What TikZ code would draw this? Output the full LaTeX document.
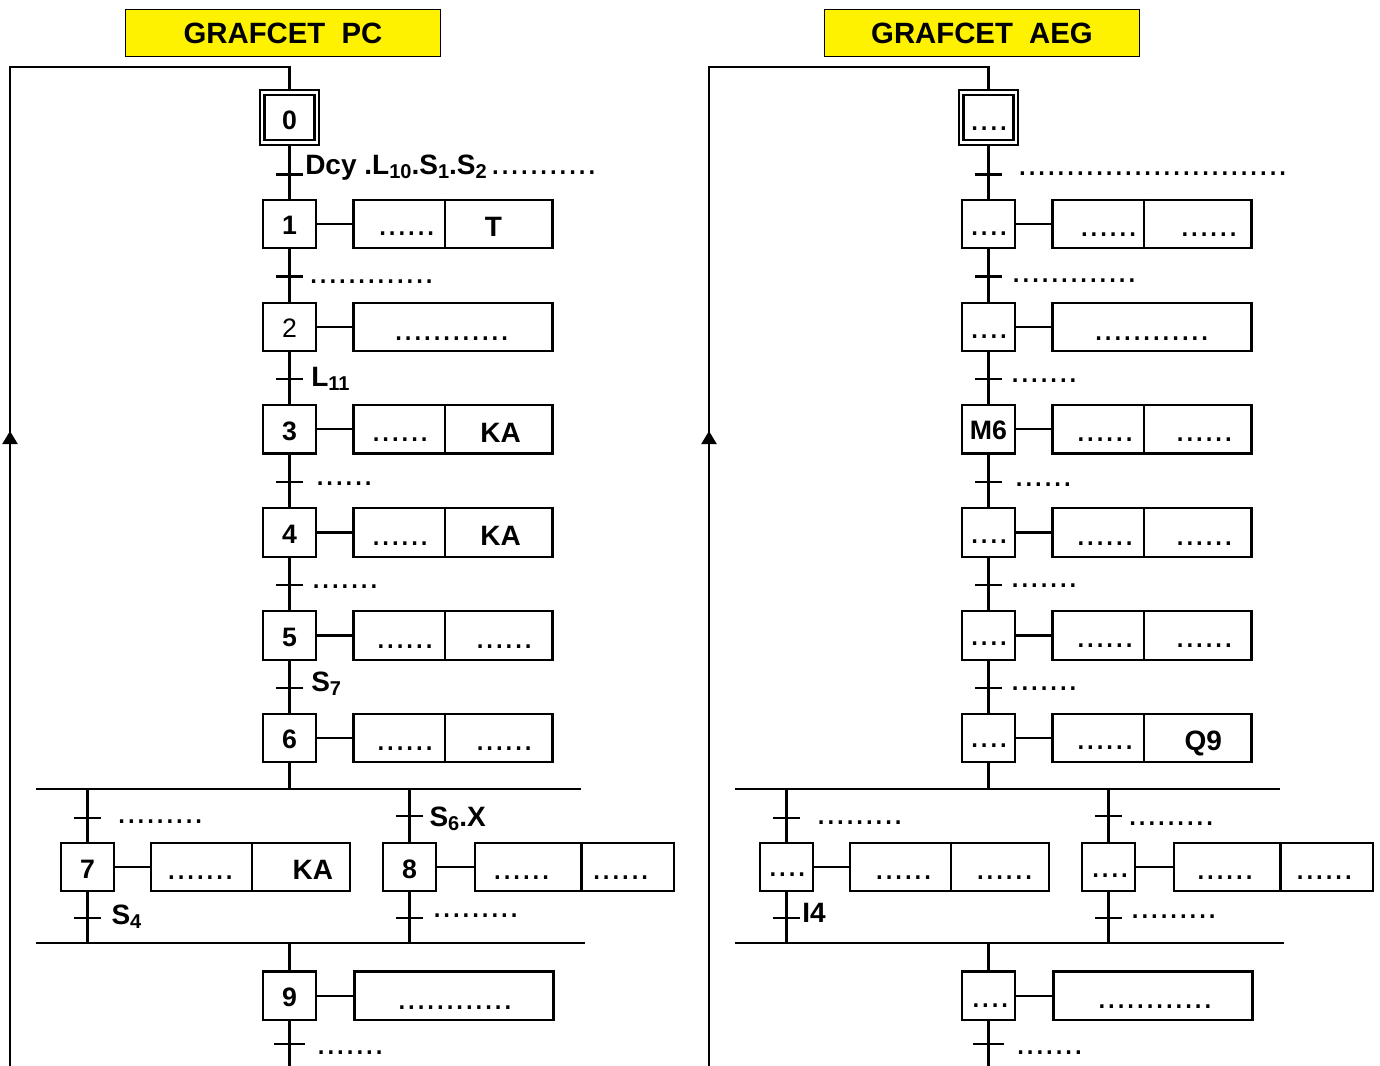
\documentclass[tikz,border=0pt]{standalone}
\usepackage{fontspec}
\setmainfont{Liberation Sans}
\usetikzlibrary{arrows.meta}
\newcommand\lowsub[1]{\raisebox{-3pt}{\fontsize{15}{15}\selectfont #1}}
\newcommand\dotsfont{\fontsize{26}{26}\selectfont\mdseries}
\tikzset{
  wire/.style={line width=1.6pt},
  stepbox/.style={draw, line width=1.7pt, minimum width=39.5pt, minimum height=36.25pt, inner sep=0pt},
  actbox/.style={draw, line width=1.7pt, minimum width=149.25pt, minimum height=36.25pt, inner sep=0pt},
  titlebox/.style={draw, line width=1pt, fill=yellow, minimum width=236.25pt, minimum height=35.25pt, inner sep=0pt, font=\fontsize{22}{22}\selectfont\bfseries},
  lbl/.style={inner sep=0pt, anchor=base west, font=\fontsize{21}{21}\selectfont\bfseries},
  dts/.style={inner sep=0pt, anchor=base west, font=\dotsfont},
  stepnum/.style={inner sep=0pt, anchor=base, font=\fontsize{20}{20}\selectfont\bfseries},
  blbl/.style={inner sep=0pt, anchor=base, font=\fontsize{21}{21}\selectfont\bfseries},
  arr/.style={line width=1.6pt, -{Triangle[width=11.25pt,length=9.75pt]}},
}
% transition: name, x, y, half length
\newcommand\trans[4]{%
  \coordinate (#1) at (#2,#3);
  \draw[wire] ([xshift=-#4]#1) -- ([xshift=#4]#1);}
\newcommand\divider[2]{%
  \draw[wire] ([xshift=#2]#1.north west) -- ([xshift=#2]#1.south west);}
% geometry of one grafcet: prefix, xshift, title
\newcommand\grafgeom[3]{%
\begin{scope}[xshift=#2]
  \node[titlebox] (#1title) at (283,33.3) {\raisebox{-1.5pt}{#3}};
  % steps
  \node[stepbox, minimum width=44pt, minimum height=41pt] (#1s0o) at (289.5,117.7) {};
  \node[stepbox, minimum width=37.5pt, minimum height=33.5pt] (#1s0) at (289.5,117.7) {};
  \node[stepbox] (#1s1) at (289.5,224) {};
  \node[stepbox] (#1s2) at (289.5,327) {};
  \node[stepbox] (#1s3) at (289.5,429.3) {};
  \node[stepbox] (#1s4) at (289.5,532.5) {};
  \node[stepbox] (#1s5) at (289.5,635.5) {};
  \node[stepbox] (#1s6) at (289.5,738) {};
  \node[stepbox] (#1s7) at (87.5,866.8) {};
  \node[stepbox] (#1s8) at (409.5,866.8) {};
  \node[stepbox] (#1s9) at (289.5,995.7) {};
  % actions
  \node[actbox] (#1a1) at (453,224) {};
  \node[actbox] (#1a2) at (453,327) {};
  \node[actbox] (#1a3) at (453,429.3) {};
  \node[actbox] (#1a4) at (453,532.5) {};
  \node[actbox] (#1a5) at (453,635.5) {};
  \node[actbox] (#1a6) at (453,738) {};
  \node[actbox] (#1a7) at (250.7,866.8) {};
  \node[actbox] (#1a8) at (574.2,866.8) {};
  \node[actbox] (#1a9) at (454,995.7) {};
  \divider{#1a1}{69.2pt}
  \divider{#1a3}{69.2pt}
  \divider{#1a4}{69.2pt}
  \divider{#1a5}{69.2pt}
  \divider{#1a6}{69.2pt}
  \divider{#1a7}{76.6pt}
  \divider{#1a8}{80.9pt}
  \draw[wire] (#1s1.east) -- (#1a1.west);
  \draw[wire] (#1s2.east) -- (#1a2.west);
  \draw[wire] (#1s3.east) -- (#1a3.west);
  \draw[wire] (#1s4.east) -- (#1a4.west);
  \draw[wire] (#1s5.east) -- (#1a5.west);
  \draw[wire] (#1s6.east) -- (#1a6.west);
  \draw[wire] (#1s7.east) -- (#1a7.west);
  \draw[wire] (#1s8.east) -- (#1a8.west);
  \draw[wire] (#1s9.east) -- (#1a9.west);
  % main chain
  \draw[wire] (#1s0o.south) -- (#1s1.north);
  \draw[wire] (#1s1.south) -- (#1s2.north);
  \draw[wire] (#1s2.south) -- (#1s3.north);
  \draw[wire] (#1s3.south) -- (#1s4.north);
  \draw[wire] (#1s4.south) -- (#1s5.north);
  \draw[wire] (#1s5.south) -- (#1s6.north);
  \trans{#1t0}{289.5}{174.5}{10.1pt}
  \trans{#1t1}{289.5}{276.5}{10.1pt}
  \trans{#1t2}{289.5}{379}{10.1pt}
  \trans{#1t3}{289.5}{481.7}{10.1pt}
  \trans{#1t4}{289.5}{585}{10.1pt}
  \trans{#1t5}{289.5}{687.7}{10.1pt}
  % divergence
  \coordinate (#1div) at (289.5,789);
  \coordinate (#1divL) at (36,789);
  \coordinate (#1divR) at (580.6,789);
  \draw[wire] (#1s6.south) -- (#1div);
  \draw[wire] (#1divL) -- (#1divR);
  \draw[wire] (#1s7.north |- #1div) -- (#1s7.north);
  \draw[wire] (#1s8.north |- #1div) -- (#1s8.north);
  \trans{#1t7a}{87.5}{818}{10.1pt}
  \trans{#1t8a}{409.5}{816}{10.1pt}
  % convergence
  \coordinate (#1conv) at (289.5,943.3);
  \coordinate (#1convL) at (36,943.3);
  \coordinate (#1convR) at (585,943.3);
  \draw[wire] (#1s7.south) -- (#1s7.south |- #1conv);
  \draw[wire] (#1s8.south) -- (#1s8.south |- #1conv);
  \draw[wire] (#1convL) -- (#1convR);
  \draw[wire] (#1conv) -- (#1s9.north);
  \trans{#1t7b}{87.5}{918.3}{10.1pt}
  \trans{#1t8b}{409.5}{917.7}{10.1pt}
  \coordinate (#1end) at (289.5,1072);
  \draw[wire] (#1s9.south) -- (#1end);
  \trans{#1t9}{289.5}{1044}{11.3pt}
  % loop back
  \coordinate (#1lpTop) at (10,66.7);
  \coordinate (#1lpBot) at (10,1072);
  \draw[wire] (#1s0o.north) |- (#1lpTop) -- (#1lpBot);
  \coordinate (#1arS) at (10,446);
  \coordinate (#1arE) at (10,431);
  \draw[arr] (#1arS) -- (#1arE);
\end{scope}}

\begin{document}
\begin{tikzpicture}[x=0.75pt,y=-0.75pt]
\useasboundingbox (0,0) rectangle (1380,1066);
\fill[white] (0,0) rectangle (1380,1066);

\grafgeom{L}{0pt}{GRAFCET\ \ PC}
\grafgeom{R}{524.25pt}{GRAFCET\ \ AEG}

% ---------- left texts ----------
\node[stepnum] (Ln0) at (289.5,130) {0};
\node[lbl] (Ll0) at (305,175) {Dcy .L\lowsub{10}.S\lowsub{1}.S\lowsub{2}\kern3pt{\dotsfont ...........}};
\node[stepnum] (Ln1) at (289.5,234.5) {1};
\node[dts] (La1a) at (377.5,236) {......};
\node[blbl] (La1b) at (493.3,236.7) {T};
\node[dts] (Ll1) at (308.5,283.5) {.............};
\node[stepnum, font=\fontsize{20}{20}\selectfont\mdseries] (Ln2) at (289.5,337.3) {2};
\node[dts] (La2) at (393.5,340) {............};
\node[lbl] (Ll2) at (311,386) {L\lowsub{11}};
\node[stepnum] (Ln3) at (289.5,440) {3};
\node[dts] (La3a) at (371,441.7) {......};
\node[blbl] (La3b) at (500.5,442.3) {KA};
\node[dts] (Ll3) at (315,485) {......};
\node[stepnum] (Ln4) at (289.5,543.3) {4};
\node[dts] (La4a) at (371,545) {......};
\node[blbl] (La4b) at (500.5,545.7) {KA};
\node[dts] (Ll4) at (311,588.4) {.......};
\node[stepnum] (Ln5) at (289.5,646.7) {5};
\node[dts] (La5a) at (375.8,648.4) {......};
\node[dts] (La5b) at (475,648.4) {......};
\node[lbl] (Ll5) at (311,691.7) {S\lowsub{7}};
\node[stepnum] (Ln6) at (289.5,748.3) {6};
\node[dts] (La6a) at (375.8,750) {......};
\node[dts] (La6b) at (475,750) {......};
\node[dts] (Ll7a) at (116.6,823.4) {.........};
\node[lbl] (Ll8a) at (429.3,826.7) {S\lowsub{6}.X};
\node[stepnum] (Ln7) at (87.5,878.3) {7};
\node[dts] (La7a) at (166.4,879) {.......};
\node[blbl] (La7b) at (312.8,879) {KA};
\node[stepnum] (Ln8) at (409.5,878.3) {8};
\node[dts] (La8a) at (492.4,879) {......};
\node[dts] (La8b) at (591.5,879) {......};
\node[lbl] (Ll7b) at (111.3,924) {S\lowsub{4}};
\node[dts] (Ll8b) at (432,917.4) {.........};
\node[stepnum] (Ln9) at (289.5,1006.7) {9};
\node[dts] (La9) at (396.8,1009) {............};
\node[dts] (Ll9) at (316.2,1054.4) {.......};

% ---------- right texts ----------
\node[dts] (Rn0) at (969.5,130.4) {....};
\node[dts] (Rl0) at (1017.4,175.7) {............................};
\node[dts] (Rn1) at (969.5,235) {....};
\node[dts] (Ra1a) at (1079.3,236.7) {......};
\node[dts] (Ra1b) at (1179.8,236.7) {......};
\node[dts] (Rl1) at (1011.2,282.7) {.............};
\node[dts] (Rn2) at (969.5,338.4) {....};
\node[dts] (Ra2) at (1093.5,340) {............};
\node[dts] (Rl2) at (1010.1,382.4) {.......};
\node[stepnum] (Rn3) at (988.5,439.5) {M6};
\node[dts] (Ra3a) at (1075.8,441.7) {......};
\node[dts] (Ra3b) at (1175.1,441.7) {......};
\node[dts] (Rl3) at (1014.1,486.7) {......};
\node[dts] (Rn4) at (969.5,543.4) {....};
\node[dts] (Ra4a) at (1075.8,545) {......};
\node[dts] (Ra4b) at (1175.1,545) {......};
\node[dts] (Rl4) at (1010.1,587.7) {.......};
\node[dts] (Rn5) at (969.5,645.7) {....};
\node[dts] (Ra5a) at (1075.8,647.4) {......};
\node[dts] (Ra5b) at (1175.1,647.4) {......};
\node[dts] (Rl5) at (1010.1,690.7) {.......};
\node[dts] (Rn6) at (969.5,747.4) {....};
\node[dts] (Ra6a) at (1075.8,749) {......};
\node[blbl] (Ra6b) at (1203.3,750) {Q9};
\node[dts] (Rl7a) at (816.1,824) {.........};
\node[dts] (Rn7) at (767.8,876.7) {....};
\node[dts] (Ra7a) at (874.4,879) {......};
\node[dts] (Ra7b) at (975.3,879) {......};
\node[lbl] (Rl7b) at (802,922.7) {I4};
\node[dts] (Rl8a) at (1127.5,825.7) {.........};
\node[dts] (Rn8) at (1090.5,877.4) {....};
\node[dts] (Ra8a) at (1195.8,879) {......};
\node[dts] (Ra8b) at (1295.1,879) {......};
\node[dts] (Rl8b) at (1130.1,918.4) {.........};
\node[dts] (Rn9) at (970.8,1007.7) {....};
\node[dts] (Ra9) at (1096.8,1008.4) {............};
\node[dts] (Rl9) at (1015.5,1054.4) {.......};
\end{tikzpicture}
\end{document}
